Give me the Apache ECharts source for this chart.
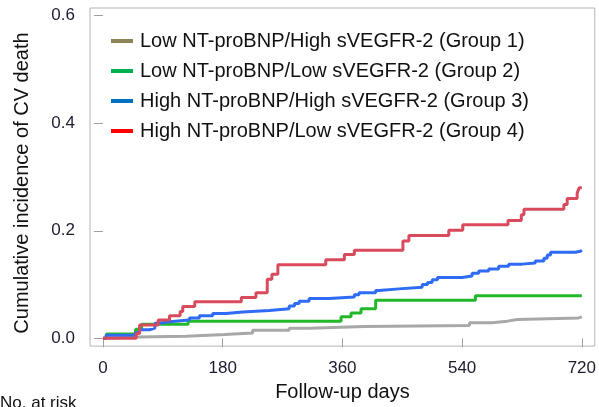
<!DOCTYPE html>
<html>
<head>
<meta charset="utf-8">
<script src="https://cdn.jsdelivr.net/npm/echarts@6/dist/echarts.min.js"></script>
<style>
  html, body { margin: 0; padding: 0; background: #fff; }
  #chart { width: 599px; height: 407px; }
</style>
</head>
<body>
<div id="chart"></div>
<script>
// group names (legend)
const groups = [
  'Low NT-proBNP/High sVEGFR-2 (Group 1)',
  'Low NT-proBNP/Low sVEGFR-2 (Group 2)',
  'High NT-proBNP/High sVEGFR-2 (Group 3)',
  'High NT-proBNP/Low sVEGFR-2 (Group 4)'
];
const xTicks = [0, 180, 360, 540, 720];
const yTicks = [0, 0.2, 0.4, 0.6];

// [day, cumulative incidence]
const group1 = [[0,0],[5,0.002],[28,0.004],[125,0.007],[183,0.010],[225,0.015],[280,0.019],[310,0.022],[393,0.024],[551,0.029],[585,0.032],[608,0.035],[623,0.038],[715,0.040],[720,0.040]];
const group2 = [[0,0],[5,0.008],[49,0.017],[58,0.026],[128,0.032],[358,0.040],[373,0.047],[388,0.055],[410,0.071],[560,0.079],[720,0.079]];
const group3 = [[0,0],[5,0.006],[49,0.011],[55,0.016],[70,0.019],[78,0.028],[83,0.031],[100,0.034],[130,0.038],[145,0.042],[165,0.046],[185,0.049],[210,0.052],[250,0.055],[280,0.060],[288,0.065],[295,0.069],[310,0.074],[340,0.077],[378,0.081],[385,0.085],[410,0.089],[415,0.092],[445,0.095],[480,0.100],[488,0.104],[495,0.109],[503,0.113],[540,0.116],[555,0.121],[565,0.125],[580,0.129],[595,0.134],[610,0.138],[630,0.140],[650,0.144],[663,0.149],[668,0.155],[673,0.160],[710,0.162],[718,0.164],[720,0.164]];
const group4 = [[0,0],[50,0.009],[55,0.025],[83,0.034],[100,0.042],[116,0.050],[120,0.059],[138,0.068],[208,0.076],[230,0.085],[247,0.110],[254,0.119],[263,0.137],[335,0.146],[363,0.156],[378,0.164],[451,0.181],[460,0.191],[520,0.201],[541,0.211],[609,0.219],[629,0.230],[633,0.240],[693,0.249],[698,0.260],[713,0.270],[716,0.280],[720,0.280]];

const curveColors = ['#a8a8a8', '#22b82a', '#2f6bf5', '#d84a5c'];
const legendColors = ['#8c8657', '#00b050', '#0070c0', '#ff0000'];
const font = 'Liberation Sans, Arial, sans-serif';

const chart = echarts.init(document.getElementById('chart'));

chart.setOption({
  animation: false,
  textStyle: { fontFamily: font },
  grid: {
    left: 90, right: 3, top: 8, bottom: 57.5,
    show: true, borderColor: '#b4b4b4', borderWidth: 1
  },
  legend: {
    orient: 'vertical',
    left: 106, top: 24,
    icon: 'rect',
    itemWidth: 22, itemHeight: 4,
    itemGap: 6,
    selectedMode: false,
    textStyle: { fontSize: 20, color: '#111', lineHeight: 24, padding: [0, 0, 0, 2] },
    data: groups.map((g, i) => ({ name: g, itemStyle: { color: legendColors[i] } }))
  },
  xAxis: {
    type: 'value',
    min: -19.5, max: 739.5,
    splitLine: { show: false },
    axisLine: { show: false },
    axisTick: { show: true, customValues: xTicks, length: 9, lineStyle: { color: '#a0a0a0' } },
    axisLabel: { customValues: xTicks, fontSize: 17, color: '#1c1c30', margin: 14 },
    name: 'Follow-up days',
    nameLocation: 'middle',
    nameGap: 33,
    nameTextStyle: { fontSize: 20, color: '#111' }
  },
  yAxis: {
    type: 'value',
    min: -0.0144, max: 0.6142,
    splitLine: { show: false },
    axisLine: { show: false },
    axisTick: { show: true, customValues: yTicks, length: 9, lineStyle: { color: '#a0a0a0' } },
    axisLabel: {
      customValues: yTicks, fontSize: 17, color: '#1c1c30', margin: 15,
      formatter: v => v.toFixed(1)
    }
  },
  graphic: [
    {
      type: 'text', x: 22, y: 183, rotation: Math.PI / 2,
      style: {
        text: 'Cumulative incidence of CV death',
        font: '20px ' + font, fill: '#111',
        align: 'center', verticalAlign: 'middle'
      }
    },
    {
      type: 'text', x: 0, y: 395,
      style: { text: 'No. at risk', font: '17px ' + font, fill: '#111' }
    }
  ],
  series: [group1, group2, group3, group4].map((d, i) => ({
    name: groups[i],
    type: 'line',
    step: 'end',
    showSymbol: false,
    data: d,
    color: curveColors[i],
    lineStyle: { width: 3, color: curveColors[i] }
  }))
});
</script>
</body>
</html>
